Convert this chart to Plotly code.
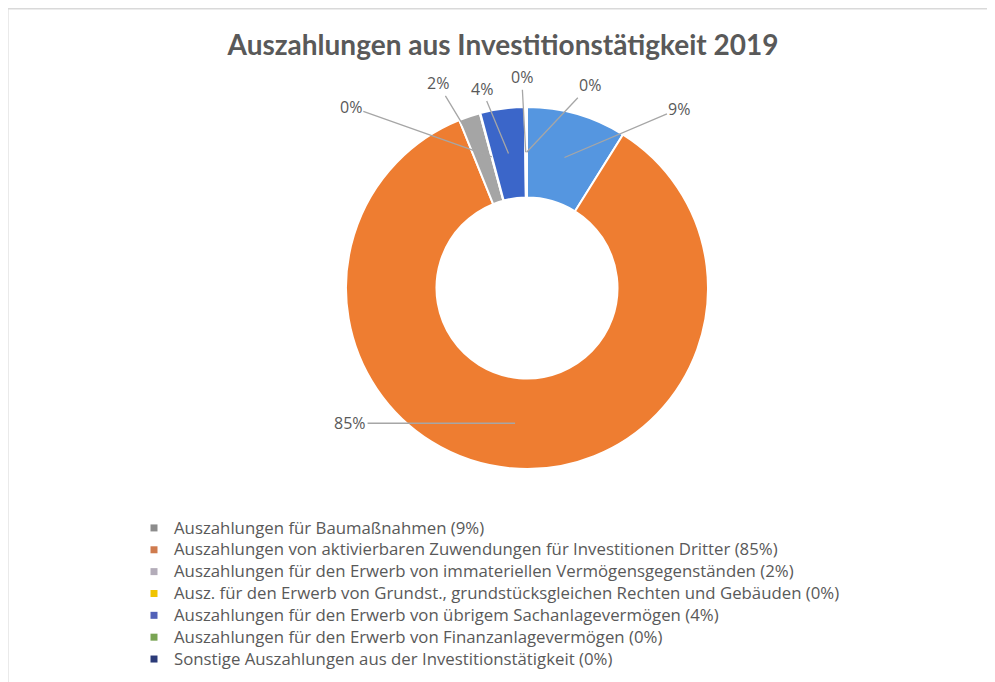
import math
import plotly.graph_objects as go

# ---------------- data ----------------
categories = [
    "Auszahlungen für Baumaßnahmen",
    "Auszahlungen von aktivierbaren Zuwendungen für Investitionen Dritter",
    "Auszahlungen für den Erwerb von immateriellen Vermögensgegenständen",
    "Ausz. für den Erwerb von Grundst., grundstücksgleichen Rechten und Gebäuden",
    "Auszahlungen für den Erwerb von übrigem Sachanlagevermögen",
    "Auszahlungen für den Erwerb von Finanzanlagevermögen",
    "Sonstige Auszahlungen aus der Investitionstätigkeit",
]
shares = [8.9, 85.0, 1.9, 0.05, 3.95, 0.1, 0.1]
title_text = "Auszahlungen aus Investitionstätigkeit 2019"

# ---------------- styles ----------------
slice_colors = ["#5596e0", "#ee7d31", "#a5a5a5", "#ffc000", "#3b66c9", "#70ad47", "#264478"]
legend_colors = ["#8c8c8c", "#cf7b4e", "#b3acb9", "#f0c400", "#5262b8", "#79a453", "#2b3a78"]
# pixel offsets of each data label from its leader-line anchor
label_offsets = [(115, -49), (-165, 0), (-46, -76), (-141, -50), (-27, -65), (-4, -75), (63, -67)]

W, H = 995, 682
PAGE = 8                           # page body margin around the figure
CX, CY, R = 527 - PAGE, 288 - PAGE, 181   # donut centre / radius in figure px
HOLE = 0.5
ANCHOR_R = 0.75 * R
TEXT_COL = "#595959"


def xp(px):
    return px / W


def yp(py):
    return 1 - py / H


fig = go.Figure()

fig.add_trace(go.Pie(
    labels=categories,
    values=shares,
    sort=False,
    direction="clockwise",
    rotation=0,
    hole=HOLE,
    textinfo="none",
    hoverinfo="label+percent",
    marker=dict(colors=slice_colors, line=dict(color="white", width=2)),
    domain=dict(x=[xp(CX - R), xp(CX + R)], y=[yp(CY + R), yp(CY - R)]),
    showlegend=False,
))

# legend entries (markers only, no data drawn)
for name, val, col in zip(categories, shares, legend_colors):
    fig.add_trace(go.Scatter(
        x=[None], y=[None], mode="markers",
        marker=dict(symbol="square", size=7, color=col),
        name=f'<span style="font-size:16.8px">{name} ({round(val):d}%)</span>',
        hoverinfo="skip",
    ))

# data labels with leader lines, anchored at each slice's mid-angle
total = sum(shares)
cum = 0.0
for val, (ox, oy) in zip(shares, label_offsets):
    mid = (cum + val / 2) / total * 2 * math.pi
    cum += val
    px = CX + ANCHOR_R * math.sin(mid)
    py = CY - ANCHOR_R * math.cos(mid)
    fig.add_annotation(
        x=xp(px), y=yp(py), xref="paper", yref="paper",
        text=f"{round(val / total * 100):d}%",
        showarrow=True, arrowhead=0, arrowwidth=1.3, arrowcolor="#a6a6a6",
        standoff=0, ax=ox, ay=oy,
        font=dict(family="Open Sans", size=16, color=TEXT_COL),
    )

fig.add_shape(type="rect", xref="paper", yref="paper",
              x0=xp(7 - PAGE + 0.8), x1=1.05, y0=-0.05, y1=yp(8 - PAGE + 0.8),
              line=dict(color="#d9d9d9", width=1.5), layer="below")

fig.update_layout(
    width=W, height=H,
    margin=dict(l=0, r=0, t=0, b=0),
    paper_bgcolor="white", plot_bgcolor="white",
    title=dict(text=f"<b>{title_text}</b>", x=xp(503 - PAGE), xanchor="center",
               y=yp(45 - PAGE), yanchor="middle",
               font=dict(family="Lato", size=28, color=TEXT_COL)),
    xaxis=dict(visible=False), yaxis=dict(visible=False),
    legend=dict(x=xp(134 - PAGE), xanchor="left", y=yp(512 - PAGE), yanchor="top",
                font=dict(family="Open Sans", size=14.5, color=TEXT_COL),
                bgcolor="rgba(0,0,0,0)", itemclick=False),
    font=dict(family="Open Sans", color=TEXT_COL),
)

fig.write_html("out.html")
